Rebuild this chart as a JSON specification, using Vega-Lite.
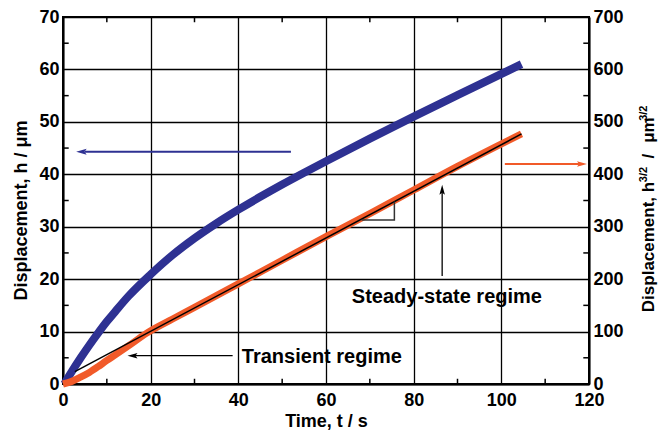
{
  "$schema": "https://vega.github.io/schema/vega-lite/v6.json",
  "width": 526,
  "height": 367,
  "autosize": "none",
  "padding": {"left": 63, "top": 17, "right": 83, "bottom": 47},
  "background": "white",
  "config": {
    "view": {"stroke": "black", "strokeWidth": 2},
    "axis": {
      "labelFont": "Liberation Sans", "labelFontWeight": "bold", "labelFontSize": 18, "labelColor": "black",
      "titleFont": "Liberation Sans", "titleFontWeight": "bold", "titleFontSize": 18, "titleColor": "black",
      "domainColor": "black", "domainWidth": 2, "ticks": false, "tickSize": 0,
      "gridColor": "black", "gridWidth": 1.3, "gridOpacity": 1, "labelFlush": false, "labelOverlap": false
    },
    "text": {"font": "Liberation Sans", "fontWeight": "bold", "color": "black"}
  },
  "datasets": {
    "blue": [
      {"t": 0.3, "h": 0}, {"t": 2, "h": 2.35}, {"t": 4, "h": 4.95}, {"t": 6, "h": 7.4}, {"t": 8, "h": 9.7},
      {"t": 10, "h": 11.9}, {"t": 12, "h": 13.9}, {"t": 15, "h": 16.8}, {"t": 20, "h": 20.9}, {"t": 25, "h": 24.6},
      {"t": 30, "h": 27.8}, {"t": 35, "h": 30.65}, {"t": 40, "h": 33.25}, {"t": 45, "h": 35.7}, {"t": 50, "h": 38.05},
      {"t": 55, "h": 40.3}, {"t": 60, "h": 42.5}, {"t": 70, "h": 46.8}, {"t": 80, "h": 51.0}, {"t": 90, "h": 55.1},
      {"t": 104.6, "h": 61.0}
    ],
    "orange": [
      {"t": 0, "v": 0}, {"t": 2, "v": 5}, {"t": 4, "v": 13}, {"t": 6, "v": 22}, {"t": 8, "v": 33},
      {"t": 10, "v": 45}, {"t": 12, "v": 56}, {"t": 15, "v": 73}, {"t": 19.1, "v": 97}, {"t": 25, "v": 124},
      {"t": 30, "v": 146}, {"t": 40, "v": 191}, {"t": 50, "v": 236}, {"t": 60, "v": 281}, {"t": 70, "v": 325},
      {"t": 80, "v": 370}, {"t": 90, "v": 415}, {"t": 104.6, "v": 477}
    ],
    "black": [{"t": 2.7, "v": 23.5}, {"t": 104.6, "v": 477}],
    "triangle": [{"i": 1, "t": 68.1, "v": 313}, {"i": 2, "t": 75.6, "v": 313}, {"i": 3, "t": 75.6, "v": 348}],
    "xminor": [{"t": 10}, {"t": 30}, {"t": 50}, {"t": 70}, {"t": 90}, {"t": 110}],
    "yminor": [{"h": 5}, {"h": 15}, {"h": 25}, {"h": 35}, {"h": 45}, {"h": 55}, {"h": 65}],
    "rminor": [{"v": 50}, {"v": 150}, {"v": 250}, {"v": 350}, {"v": 450}, {"v": 550}, {"v": 650}],
    "blue_arrow": [{"t": 5, "t2": 52, "h": 44.3}],
    "blue_head": [{"t": 4.2, "h": 44.3}],
    "trans_arrow": [{"t": 16, "t2": 38.7, "h": 5.4}],
    "trans_head": [{"t": 15.85, "h": 5.4}],
    "steady_arrow": [{"t": 86.5, "h": 20.6, "h2": 36.5}],
    "steady_head": [{"t": 86.5, "h": 37.05}],
    "labels": [{"t": 40.8, "h": 3.94, "label": "Transient regime"}, {"t": 65.9, "h": 15.45, "label": "Steady-state regime"}],
    "orange_arrow": [{"t": 100.8, "t2": 118, "v": 419.6}],
    "orange_head": [{"t": 118.4, "v": 419.6}],
    "rtitle": [{"t": 134.8, "v": 137, "label": "Displacement, h"}, {"t": 134.8, "v": 430, "label": "/"}, {"t": 134.8, "v": 460, "label": "μm"}],
    "rsup": [{"t": 133.2, "v": 385, "label": "3/2"}, {"t": 133.2, "v": 502, "label": "3/2"}]
  },
  "resolve": {"scale": {"x": "independent", "y": "independent"}, "axis": {"x": "independent", "y": "independent"}},
  "layer": [
    {
      "data": {"name": "blue"},
      "mark": {"type": "line", "color": "#2E3192", "strokeWidth": 8, "clip": false, "interpolate": "monotone"},
      "encoding": {
        "x": {"field": "t", "type": "quantitative", "scale": {"domain": [0, 120], "nice": false, "zero": false},
              "axis": {"orient": "bottom", "values": [0, 20, 40, 60, 80, 100, 120], "grid": true, "title": "Time, t / s", "labelPadding": 7, "titlePadding": 3}},
        "y": {"field": "h", "type": "quantitative", "scale": {"domain": [0, 70], "nice": false, "zero": false},
              "axis": {"orient": "left", "values": [0, 10, 20, 30, 40, 50, 60, 70], "grid": true, "title": "Displacement, h / μm", "labelPadding": 4, "titlePadding": 8, "titleY": 193}}
      }
    },
    {
      "data": {"name": "xminor"},
      "mark": {"type": "rule", "color": "black", "strokeWidth": 1.5},
      "encoding": {
        "x": {"field": "t", "type": "quantitative", "scale": {"domain": [0, 120], "nice": false, "zero": false}, "axis": null},
        "y": {"datum": 0, "scale": {"domain": [0, 70], "nice": false, "zero": false}, "axis": null}, "y2": {"datum": 1}
      }
    },
    {
      "data": {"name": "xminor"},
      "mark": {"type": "rule", "color": "black", "strokeWidth": 1.5},
      "encoding": {
        "x": {"field": "t", "type": "quantitative", "scale": {"domain": [0, 120], "nice": false, "zero": false}, "axis": null},
        "y": {"datum": 70, "scale": {"domain": [0, 70], "nice": false, "zero": false}, "axis": null}, "y2": {"datum": 69}
      }
    },
    {
      "data": {"name": "yminor"},
      "mark": {"type": "rule", "color": "black", "strokeWidth": 1.5},
      "encoding": {
        "x": {"datum": 0, "scale": {"domain": [0, 120], "nice": false, "zero": false}, "axis": null}, "x2": {"datum": 1.3},
        "y": {"field": "h", "type": "quantitative", "scale": {"domain": [0, 70], "nice": false, "zero": false}, "axis": null}
      }
    },
    {
      "data": {"name": "blue_arrow"},
      "mark": {"type": "rule", "color": "#2E3192", "strokeWidth": 2},
      "encoding": {
        "x": {"field": "t", "type": "quantitative", "scale": {"domain": [0, 120], "nice": false, "zero": false}, "axis": null}, "x2": {"field": "t2"},
        "y": {"field": "h", "type": "quantitative", "scale": {"domain": [0, 70], "nice": false, "zero": false}, "axis": null}
      }
    },
    {
      "data": {"name": "blue_head"},
      "mark": {"type": "point", "shape": "M-1,0L1,-0.55L0.6,0L1,0.55Z", "filled": true, "size": 110, "color": "#2E3192", "opacity": 1, "strokeWidth": 0},
      "encoding": {
        "x": {"field": "t", "type": "quantitative", "scale": {"domain": [0, 120], "nice": false, "zero": false}, "axis": null},
        "y": {"field": "h", "type": "quantitative", "scale": {"domain": [0, 70], "nice": false, "zero": false}, "axis": null}
      }
    },
    {
      "data": {"name": "trans_arrow"},
      "mark": {"type": "rule", "color": "black", "strokeWidth": 1.3},
      "encoding": {
        "x": {"field": "t", "type": "quantitative", "scale": {"domain": [0, 120], "nice": false, "zero": false}, "axis": null}, "x2": {"field": "t2"},
        "y": {"field": "h", "type": "quantitative", "scale": {"domain": [0, 70], "nice": false, "zero": false}, "axis": null}
      }
    },
    {
      "data": {"name": "trans_head"},
      "mark": {"type": "point", "shape": "M-1,0L1,-0.55L0.6,0L1,0.55Z", "filled": true, "size": 100, "color": "black", "opacity": 1, "strokeWidth": 0},
      "encoding": {
        "x": {"field": "t", "type": "quantitative", "scale": {"domain": [0, 120], "nice": false, "zero": false}, "axis": null},
        "y": {"field": "h", "type": "quantitative", "scale": {"domain": [0, 70], "nice": false, "zero": false}, "axis": null}
      }
    },
    {
      "data": {"name": "steady_arrow"},
      "mark": {"type": "rule", "color": "black", "strokeWidth": 1.3},
      "encoding": {
        "x": {"field": "t", "type": "quantitative", "scale": {"domain": [0, 120], "nice": false, "zero": false}, "axis": null},
        "y": {"field": "h", "type": "quantitative", "scale": {"domain": [0, 70], "nice": false, "zero": false}, "axis": null}, "y2": {"field": "h2"}
      }
    },
    {
      "data": {"name": "steady_head"},
      "mark": {"type": "point", "shape": "M-1,0L1,-0.55L0.6,0L1,0.55Z", "filled": true, "size": 100, "angle": 90, "color": "black", "opacity": 1, "strokeWidth": 0},
      "encoding": {
        "x": {"field": "t", "type": "quantitative", "scale": {"domain": [0, 120], "nice": false, "zero": false}, "axis": null},
        "y": {"field": "h", "type": "quantitative", "scale": {"domain": [0, 70], "nice": false, "zero": false}, "axis": null}
      }
    },
    {
      "data": {"name": "labels"},
      "mark": {"type": "text", "align": "left", "baseline": "alphabetic", "fontSize": 20, "fontWeight": "bold", "font": "Liberation Sans"},
      "encoding": {
        "x": {"field": "t", "type": "quantitative", "scale": {"domain": [0, 120], "nice": false, "zero": false}, "axis": null},
        "y": {"field": "h", "type": "quantitative", "scale": {"domain": [0, 70], "nice": false, "zero": false}, "axis": null},
        "text": {"field": "label"}
      }
    },
    {
      "data": {"name": "orange"},
      "mark": {"type": "line", "color": "#F15A29", "strokeWidth": 7, "clip": false, "interpolate": "monotone"},
      "encoding": {
        "x": {"field": "t", "type": "quantitative", "scale": {"domain": [0, 120], "nice": false, "zero": false}, "axis": null},
        "y": {"field": "v", "type": "quantitative", "scale": {"domain": [0, 700], "nice": false, "zero": false},
              "axis": {"orient": "right", "values": [0, 100, 200, 300, 400, 500, 600, 700], "grid": false, "title": null, "labelPadding": 4}}
      }
    },
    {
      "data": {"name": "black"},
      "mark": {"type": "line", "color": "black", "strokeWidth": 1.5},
      "encoding": {
        "x": {"field": "t", "type": "quantitative", "scale": {"domain": [0, 120], "nice": false, "zero": false}, "axis": null},
        "y": {"field": "v", "type": "quantitative", "scale": {"domain": [0, 700], "nice": false, "zero": false}, "axis": null}
      }
    },
    {
      "data": {"name": "triangle"},
      "mark": {"type": "line", "color": "#333333", "strokeWidth": 1.5},
      "encoding": {
        "x": {"field": "t", "type": "quantitative", "scale": {"domain": [0, 120], "nice": false, "zero": false}, "axis": null},
        "y": {"field": "v", "type": "quantitative", "scale": {"domain": [0, 700], "nice": false, "zero": false}, "axis": null},
        "order": {"field": "i"}
      }
    },
    {
      "data": {"name": "rminor"},
      "mark": {"type": "rule", "color": "black", "strokeWidth": 1.5},
      "encoding": {
        "x": {"datum": 118.7, "scale": {"domain": [0, 120], "nice": false, "zero": false}, "axis": null}, "x2": {"datum": 120},
        "y": {"field": "v", "type": "quantitative", "scale": {"domain": [0, 700], "nice": false, "zero": false}, "axis": null}
      }
    },
    {
      "data": {"name": "orange_arrow"},
      "mark": {"type": "rule", "color": "#F15A29", "strokeWidth": 2},
      "encoding": {
        "x": {"field": "t", "type": "quantitative", "scale": {"domain": [0, 120], "nice": false, "zero": false}, "axis": null}, "x2": {"field": "t2"},
        "y": {"field": "v", "type": "quantitative", "scale": {"domain": [0, 700], "nice": false, "zero": false}, "axis": null}
      }
    },
    {
      "data": {"name": "orange_head"},
      "mark": {"type": "point", "shape": "M-1,0L1,-0.55L0.6,0L1,0.55Z", "filled": true, "size": 100, "angle": 180, "color": "#F15A29", "opacity": 1, "strokeWidth": 0},
      "encoding": {
        "x": {"field": "t", "type": "quantitative", "scale": {"domain": [0, 120], "nice": false, "zero": false}, "axis": null},
        "y": {"field": "v", "type": "quantitative", "scale": {"domain": [0, 700], "nice": false, "zero": false}, "axis": null}
      }
    },
    {
      "data": {"name": "rtitle"},
      "mark": {"type": "text", "align": "left", "baseline": "alphabetic", "angle": 270, "fontSize": 17, "fontWeight": "bold", "font": "Liberation Sans"},
      "encoding": {
        "x": {"field": "t", "type": "quantitative", "scale": {"domain": [0, 120], "nice": false, "zero": false}, "axis": null},
        "y": {"field": "v", "type": "quantitative", "scale": {"domain": [0, 700], "nice": false, "zero": false}, "axis": null},
        "text": {"field": "label"}
      }
    },
    {
      "data": {"name": "rsup"},
      "mark": {"type": "text", "align": "left", "baseline": "alphabetic", "angle": 270, "fontSize": 11, "fontWeight": "bold", "font": "Liberation Sans"},
      "encoding": {
        "x": {"field": "t", "type": "quantitative", "scale": {"domain": [0, 120], "nice": false, "zero": false}, "axis": null},
        "y": {"field": "v", "type": "quantitative", "scale": {"domain": [0, 700], "nice": false, "zero": false}, "axis": null},
        "text": {"field": "label"}
      }
    }
  ]
}
